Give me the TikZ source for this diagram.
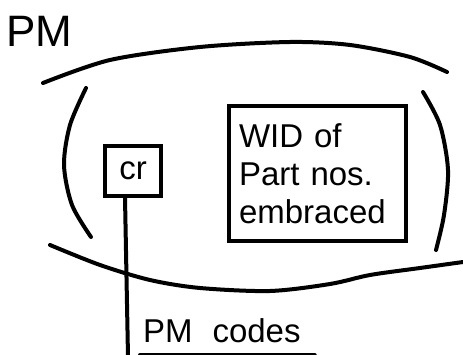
\documentclass[tikz,border=0pt]{standalone}
\usepackage{fontspec}
\setmainfont{Liberation Sans}
\usetikzlibrary{positioning}

\begin{document}
\begin{tikzpicture}[
        x=1pt, y=-1pt,
        stroke/.style={line width=4pt, line cap=round, line join=round},
        box/.style={draw, line width=3.5pt, inner sep=0pt},
        hand/.style={font=\fontsize{33}{38}\selectfont, inner sep=0pt}
    ]
        \useasboundingbox (0,0) rectangle (463,355);

        \node [hand, font=\fontsize{44}{44}\selectfont, anchor=west] (pm) at (6,31) {PM};

        % the ring round everything
        \draw [stroke] plot[smooth] coordinates {(43,83) (110,60) (200,47) (290,42) (350,45) (410,57) (447,72)};
        \draw [stroke] plot[smooth] coordinates {(86,88) (70,125) (64,165) (72,205) (91,237)};
        \draw [stroke] plot[smooth] coordinates {(423,92) (440,125) (448,170) (444,215) (436,250)};
        \draw [stroke] plot[smooth] coordinates {(50,245) (100,265) (150,280) (200,288) (270,291) (330,284) (370,275) (420,268) (463,262)};

        \node [box, hand, minimum width=56, minimum height=50] (cr) at (133,171) {cr};
        \node [box, hand, minimum height=135, text width=157, inner xsep=10pt, align=left] (wid) at (317.5,173.5) {WID of\\Part nos.\\embraced};

        \node [hand, anchor=west] (codes) at (143,331) {PM\hspace{0.6em}codes};
        \coordinate (tail) at (128,357);

        \draw [stroke] ([xshift=-8pt]cr.south) -- (tail);
        \draw [stroke] ([xshift=-3pt, yshift=-12pt]codes.south west) -- ([xshift=14pt, yshift=-12pt]codes.south east);
    \end{tikzpicture}
\end{document}
